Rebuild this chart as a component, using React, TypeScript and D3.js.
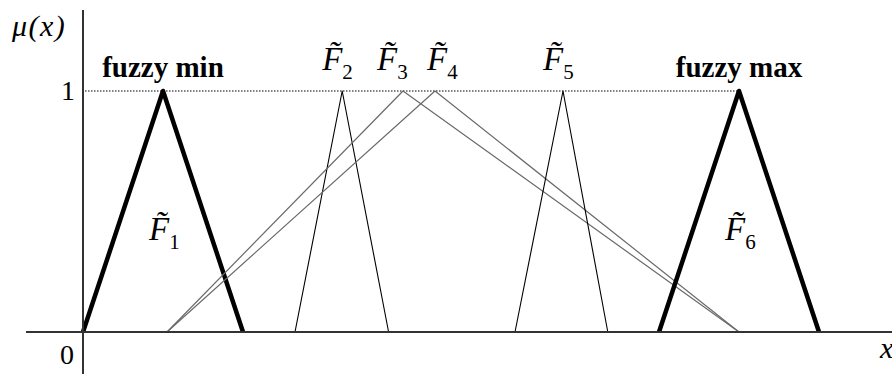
import React from 'react';
import * as d3 from 'd3';

// triangular fuzzy numbers (left, peak, right) on the x axis
const names = ['1', '2', '3', '4', '5', '6'];
const lefts = [0, 26.5, 10.5, 10.5, 54, 72];
const peaks = [10, 32.4, 40, 44, 60, 82];
const rights = [20, 38.2, 82, 82, 65.6, 92];
const headings = ['fuzzy min', 'fuzzy max'];
const yTicks = ['0', '1'];

const W = 892;
const H = 374;
const serif = 'Liberation Serif';

// style per triangle
const strokes = ['#000', '#000', '#6a6a6a', '#6a6a6a', '#000', '#000'];
const widths = [4.5, 1.1, 1.2, 1.2, 1.1, 4.5];
// label offsets for F~ labels (px relative to the peak)
const labelDx = [-14, -20, -26, -8, -20, -14];

const App = () => {
  const x = d3.scaleLinear().domain([0, 100]).range([83, 883]);
  const y = d3.scaleLinear().domain([0, 1]).range([332, 91]);
  const line = d3.line<[number, number]>().x(d => x(d[0])).y(d => y(d[1]));

  const tris = names.map((n, i) => ({
    name: n,
    pts: [[lefts[i], 0], [peaks[i], 1], [rights[i], 0]] as [number, number][],
  }));

  return (
    <svg width={W} height={H} viewBox={`0 0 ${W} ${H}`}
      style={{ position: 'absolute', left: 0, top: 0, background: '#fff' }}>
      {/* dotted level line at mu = 1 */}
      <line x1={x(0) + 2} x2={x(peaks[5])} y1={y(1)} y2={y(1)}
        stroke="#000" strokeWidth={1} strokeDasharray="1.5,1.5" />

      {/* triangles */}
      {tris.map((t, i) => (
        <path key={t.name} d={line(t.pts) || ''} fill="none"
          stroke={strokes[i]} strokeWidth={widths[i]} strokeLinejoin="round" />
      ))}

      {/* axes */}
      <line x1={26} x2={W} y1={y(0)} y2={y(0)} stroke="#333" strokeWidth={2} />
      <line x1={x(0)} x2={x(0)} y1={10} y2={H} stroke="#333" strokeWidth={2} />

      {/* axis labels */}
      <text x={12} y={36} fontFamily={serif} fontSize={30} fontStyle="italic" letterSpacing={1.5}>μ(x)</text>
      <text x={75} y={y(1) + 9} fontFamily={serif} fontSize={28} textAnchor="end">{yTicks[1]}</text>
      <text x={74} y={364} fontFamily={serif} fontSize={28} textAnchor="end">{yTicks[0]}</text>
      <text x={880} y={358} fontFamily={serif} fontSize={30} fontStyle="italic">x</text>

      {/* headings */}
      {headings.map((h, i) => (
        <text key={h} x={x(peaks[i === 0 ? 0 : 5])} y={77} fontFamily={serif}
          fontWeight="bold" fontSize={29} textAnchor="middle" fill="#000">{h}</text>
      ))}

      {/* F~ labels */}
      {names.map((n, i) => {
        const inside = i === 0 || i === 5;
        return (
          <text key={'lab' + n} x={x(peaks[i]) + labelDx[i]} y={inside ? 240 : 70}
            fontFamily={serif} fontSize={33} fontStyle="italic" fill="#000">
            {'F\u0303'}
            <tspan dy={9} fontSize={21} fontStyle="normal">{n}</tspan>
          </text>
        );
      })}
    </svg>
  );
};

export default App;
